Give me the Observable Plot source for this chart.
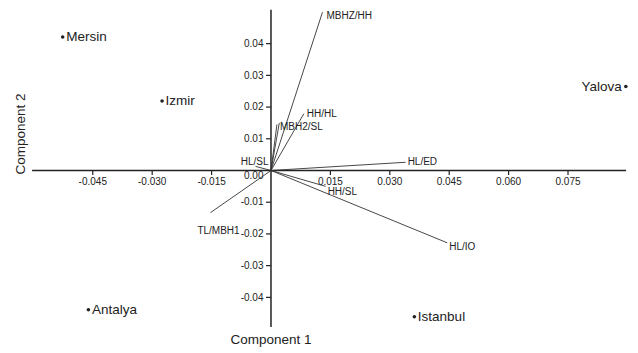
<!DOCTYPE html>
<html>
<head>
<meta charset="utf-8">
<script src="https://cdn.jsdelivr.net/npm/d3@7"></script>
<script src="https://cdn.jsdelivr.net/npm/@observablehq/plot@0.6"></script>
<style>
  html, body { margin: 0; padding: 0; background: #fff; }
  svg { display: block; }
</style>
</head>
<body>
<div id="chart"></div>
<script>
// Cities (scores)
const cityNames = ["Mersin", "Izmir", "Antalya", "Istanbul", "Yalova"];
const cityX = [-0.0526, -0.0275, -0.0461, 0.0362, 0.0896];
const cityY = [0.0421, 0.0219, -0.0439, -0.0461, 0.0265];

// Variable loadings
const loadingNames = ["MBHZ/HH", "HH/HL", "MBH2/SL", "", "HL/SL", "HL/ED", "HH/SL", "HL/IO", "TL/MBH1"];
const loadingX = [0.0130, 0.0083, 0.0015, 0.0021, -0.0039, 0.0340, 0.0138, 0.0445, -0.0153];
const loadingY = [0.0499, 0.0179, 0.0145, 0.0150, 0.0013, 0.0026, -0.0050, -0.0228, -0.0133];

// Tick labels
const xTicks = [-0.045, -0.030, -0.015, 0.015, 0.030, 0.045, 0.060, 0.075];
const yTicks = [-0.04, -0.03, -0.02, -0.01, 0.01, 0.02, 0.03, 0.04];
const yZeroTick = [0];

// Axis line extents
const xAxisExtent = [-0.0602, 0.0898];
const yAxisExtent = [-0.0495, 0.0505];

// Label placement styles (pixels) for loadings
const loadingLabelStyle = [
  {dx: 4, dy: 3.5, anchor: "start"},
  {dx: 3, dy: 0, anchor: "start"},
  {dx: 3, dy: 2, anchor: "start"},
  {dx: 0, dy: 0, anchor: "start"},
  {dx: 13, dy: -5, anchor: "end"},
  {dx: 2, dy: 0, anchor: "start"},
  {dx: 2, dy: 5.5, anchor: "start"},
  {dx: 2, dy: 4, anchor: "start"},
  {dx: -13, dy: 18, anchor: "start"}
];

const cities = cityNames.map((n, i) => ({name: n, x: cityX[i], y: cityY[i]}));
const loadings = loadingNames.map((n, i) => ({name: n, x: loadingX[i], y: loadingY[i], i}));

const ink = "#222";
const font = "Liberation Sans, Arial, sans-serif";

const loadingLabelMarks = loadings.filter(d => d.name).map(d => {
  const s = loadingLabelStyle[d.i];
  return Plot.text([d], {x: "x", y: "y", text: "name", dx: s.dx, dy: s.dy,
    textAnchor: s.anchor, fontSize: 10, fill: ink});
});

const chart = Plot.plot({
  width: 638,
  height: 353,
  marginLeft: 271,
  marginRight: 0,
  marginTop: 0,
  marginBottom: 183,
  style: {fontFamily: font, background: "#fff", color: ink, overflow: "visible"},
  x: {domain: [-0.0683, 0.0928], range: [0, 638], label: null},
  y: {domain: [-0.0577, 0.0536], range: [353, 0], label: null},
  marks: [
    Plot.ruleY([0], {x1: xAxisExtent[0], x2: xAxisExtent[1], stroke: ink, strokeWidth: 1.5}),
    Plot.ruleX([0], {y1: yAxisExtent[0], y2: yAxisExtent[1], stroke: ink, strokeWidth: 1.5}),
    Plot.axisX(xTicks, {anchor: "bottom", tickSize: 5, tickPadding: 2, fontSize: 10,
      tickFormat: d => d.toFixed(3), label: null, stroke: ink, fill: ink, strokeWidth: 1.2}),
    Plot.axisY(yTicks, {anchor: "left", tickSize: 5, tickPadding: 3, fontSize: 10,
      tickFormat: d => d.toFixed(2), label: null, stroke: ink, fill: ink, strokeWidth: 1.2}),
    Plot.axisY(yZeroTick, {anchor: "left", tickSize: 0, tickPadding: 8, dy: 5, fontSize: 10,
      tickFormat: d => d.toFixed(2), label: null, fill: ink}),
    Plot.link(loadings, {x1: 0, y1: 0, x2: "x", y2: "y", stroke: "#333", strokeWidth: 0.9}),
    ...loadingLabelMarks,
    Plot.dot(cities, {x: "x", y: "y", r: 1.8, fill: ink, stroke: "none"}),
    Plot.text(cities.filter(d => d.name !== "Yalova"), {x: "x", y: "y", text: "name",
      dx: 3.5, textAnchor: "start", fontSize: 13.5, fill: ink}),
    Plot.text(cities.filter(d => d.name === "Yalova"), {x: "x", y: "y", text: "name",
      dx: -4, textAnchor: "end", fontSize: 13.5, fill: ink}),
    Plot.text(["Component 1"], {x: 0, frameAnchor: "bottom", dy: 173, fontSize: 13.5, fill: ink}),
    Plot.text(["Component 2"], {y: 0, frameAnchor: "left", dx: -251, dy: 4, rotate: -90,
      fontSize: 13.5, fill: ink})
  ]
});
document.getElementById("chart").appendChild(chart);
</script>
</body>
</html>
